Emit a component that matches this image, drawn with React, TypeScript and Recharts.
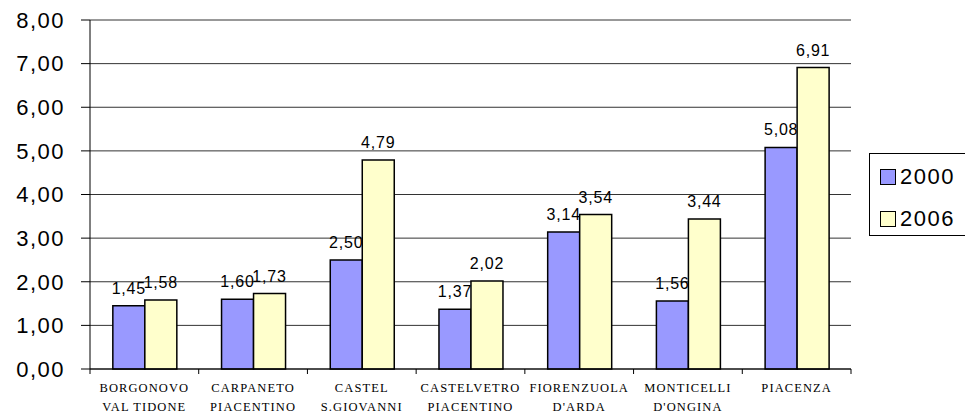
import { BarChart, Bar, XAxis, YAxis, CartesianGrid, LabelList } from 'recharts'

const comuni = [
  ['BORGONOVO', 'VAL TIDONE'],
  ['CARPANETO', 'PIACENTINO'],
  ['CASTEL', 'S.GIOVANNI'],
  ['CASTELVETRO', 'PIACENTINO'],
  ['FIORENZUOLA', "D'ARDA"],
  ['MONTICELLI', "D'ONGINA"],
  ['PIACENZA'],
]
const valori2000 = [1.45, 1.6, 2.5, 1.37, 3.14, 1.56, 5.08]
const valori2006 = [1.58, 1.73, 4.79, 2.02, 3.54, 3.44, 6.91]
const yTicks = [0, 1, 2, 3, 4, 5, 6, 7, 8]

const serie = [
  { key: 'v2000', name: '2000', color: '#9999FF' },
  { key: 'v2006', name: '2006', color: '#FFFFCC' },
]

const data = comuni.map((righe, i) => ({
  name: righe.join(' '),
  righe,
  v2000: valori2000[i],
  v2006: valori2006[i],
}))

const sans = 'Liberation Sans, Arial, sans-serif'
const fmt = (v: number) => v.toFixed(2).replace('.', ',')

function CategoryTick(props: any) {
  const { x, y, payload, index, visibleTicksCount } = props
  const half = payload.offset ?? 0
  const righe = data[index]?.righe ?? [payload.value]
  return (
    <g>
      <line x1={x - half} x2={x - half} y1={y} y2={y + 5} stroke="#000" />
      {index === visibleTicksCount - 1 && (
        <line x1={x + half} x2={x + half} y1={y} y2={y + 5} stroke="#000" />
      )}
      <text
        x={x}
        textAnchor="middle"
        fontFamily="Liberation Serif, Times New Roman, serif"
        fontSize={12.5}
        letterSpacing={1.1}
        fill="#000"
      >
        {righe.map((r: string, k: number) => (
          <tspan key={k} x={x} y={y + 23 + k * 19}>
            {r}
          </tspan>
        ))}
      </text>
    </g>
  )
}

function LegendBox() {
  return (
    <div
      style={{
        position: 'absolute',
        left: 869,
        top: 153,
        width: 110,
        height: 83,
        border: '1px solid #000',
        boxSizing: 'border-box',
        paddingTop: 8,
        paddingLeft: 10,
        fontFamily: sans,
        fontSize: 22,
        letterSpacing: 1.5,
        lineHeight: '22px',
      }}
    >
      {serie.map((s) => (
        <div key={s.key} style={{ display: 'flex', alignItems: 'center', height: 30, marginBottom: 12 }}>
          <span
            style={{
              display: 'inline-block',
              width: 14,
              height: 14,
              background: s.color,
              border: '1px solid #000',
              marginRight: 4,
            }}
          />
          {s.name}
        </div>
      ))}
    </div>
  )
}

export default function App() {
  return (
    <div style={{ position: 'absolute', left: 0, top: 0, width: 965, height: 414, background: '#fff', overflow: 'hidden' }}>
      <BarChart
        width={965}
        height={414}
        data={data}
        margin={{ top: 20, right: 114, bottom: 0, left: 0 }}
        barCategoryGap="21%"
        barGap={0}
      >
        <CartesianGrid vertical={false} stroke="#333" />
        <XAxis
          dataKey="name"
          height={45}
          interval={0}
          tickSize={0}
          tickMargin={0}
          axisLine={{ stroke: '#000' }}
          tick={<CategoryTick />}
        />
        <YAxis
          width={90}
          domain={[0, 8]}
          ticks={yTicks}
          tickFormatter={fmt}
          tickSize={9}
          tickMargin={16}
          axisLine={{ stroke: '#000' }}
          tickLine={{ stroke: '#000' }}
          tick={{ fill: '#000', fontSize: 22, fontFamily: sans, letterSpacing: 1.5 }}
        />
        <YAxis
          yAxisId="bordo"
          orientation="right"
          width={0}
          tick={false}
          tickLine={false}
          axisLine={{ stroke: '#808080' }}
        />
        {serie.map((s) => (
          <Bar
            key={s.key}
            dataKey={s.key}
            name={s.name}
            fill={s.color}
            stroke="#000"
            strokeWidth={1.5}
            isAnimationActive={false}
          >
            <LabelList
              dataKey={s.key}
              position="top"
              offset={12}
              formatter={(v: any) => fmt(Number(v))}
              style={{ fill: '#000', fontSize: 16, fontFamily: sans, letterSpacing: 0.8 }}
            />
          </Bar>
        ))}
      </BarChart>
      <LegendBox />
    </div>
  )
}
